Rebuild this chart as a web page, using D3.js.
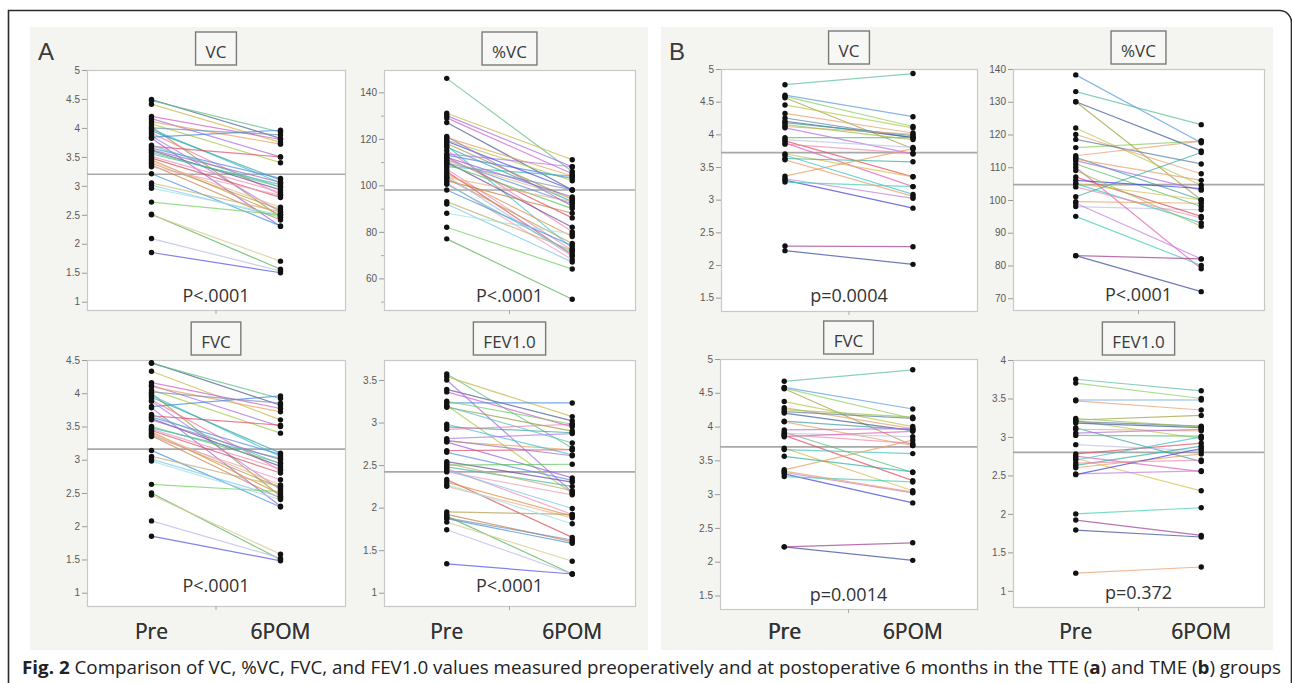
<!DOCTYPE html>
<html><head><meta charset="utf-8">
<script src="https://cdn.jsdelivr.net/npm/d3@7"></script>
<style>html,body{margin:0;padding:0;background:#fff;} svg{display:block}</style>
</head><body>
<svg id="chart" width="1292" height="683"></svg>
<script>
// ---------------- DATA ----------------
const timepoints = ["Pre", "6POM"];
const groupLabels = ["A", "B"];
const titles = ["VC", "%VC", "FVC", "FEV1.0", "VC", "%VC", "FVC", "FEV1.0"];
const pLabels = ["P<.0001", "P<.0001", "P<.0001", "P<.0001", "p=0.0004", "P<.0001", "p=0.0014", "p=0.372"];
const meanValues = [3.2, 98, 3.16, 2.42, 3.72, 104.7, 3.70, 2.80];

const ticksVolA = [1, 1.5, 2, 2.5, 3, 3.5, 4, 4.5, 5];
const ticksPctA = [60, 80, 100, 120, 140];
const ticksPctAMinor = [50, 70, 90, 110, 130, 150];
const ticksFvcA = [1, 1.5, 2, 2.5, 3, 3.5, 4, 4.5];
const ticksFevA = [1, 1.5, 2, 2.5, 3, 3.5];
const ticksVolB = [1.5, 2, 2.5, 3, 3.5, 4, 4.5, 5];
const ticksPctB = [70, 80, 90, 100, 110, 120, 130, 140];
const ticksFevB = [1, 1.5, 2, 2.5, 3, 3.5, 4];

// TTE group (A)
const aVC_pre  = [4.49,4.47,4.41,4.20,4.16,4.11,4.07,4.02,3.98,3.95,3.91,3.86,3.84,3.82,3.68,3.65,3.61,3.58,3.55,3.51,3.48,3.45,3.42,3.39,3.36,3.33,3.21,3.05,3.01,2.96,2.72,2.51,2.50,2.09,1.85,4.00,3.70,3.62];
const aVC_post = [3.82,3.93,3.75,3.80,3.50,3.72,3.40,2.46,3.05,3.10,2.85,2.55,3.96,2.30,3.50,3.13,2.93,2.98,3.02,2.89,2.80,2.50,2.63,2.59,2.41,2.84,2.31,2.55,2.46,2.50,2.50,1.56,1.70,1.53,1.50,3.88,2.98,3.06];
const aPVC_pre  = [127,146,131,129,130,120.5,119.5,118,117,116.5,115,113.5,113,112,112,111,110,109,108,107,106,105,103.5,103,102,101,98,93,92,88,82,77,110.5,104,119,109.5,100.5,121];
const aPVC_post = [98,106,111,105,108,104,102,94,73,93,80,108,103,95,86,92,82,90,104,72,70,78,93,75,88,68,74,72,67,79,64,51,94.5,69.5,98,98,71,91];
const aFVC_pre  = [4.46,4.45,4.33,4.16,4.12,4.10,4.05,4.00,3.97,3.94,3.90,3.88,3.80,3.78,3.66,3.64,3.62,3.50,3.48,3.46,3.44,3.42,3.40,3.38,3.36,3.35,3.14,3.05,3.01,2.98,2.63,2.50,2.47,2.08,1.85,4.02,3.68,3.60];
const aFVC_post = [3.82,3.92,3.60,3.77,3.50,3.72,3.40,2.45,3.05,3.10,2.84,2.55,3.96,2.30,3.52,3.08,2.90,2.95,3.02,2.86,2.80,2.48,2.62,2.58,2.42,2.70,2.29,2.60,2.44,2.40,2.52,1.50,1.58,1.52,1.48,3.85,2.94,3.00];
const aFEV_pre  = [3.39,3.57,3.54,3.36,3.50,2.78,3.20,3.18,2.98,2.95,2.92,2.81,3.23,2.77,2.67,2.65,2.54,2.50,2.48,2.46,2.33,2.30,2.25,1.95,1.92,2.42,1.87,2.52,2.44,2.27,3.25,1.90,1.83,1.74,1.34,1.88,3.19,2.79];
const aFEV_post = [3.02,2.70,3.07,2.95,2.18,2.68,2.17,2.90,2.62,2.88,2.98,2.87,3.23,2.35,2.68,2.32,2.30,2.51,2.25,1.92,1.65,1.90,1.88,1.92,1.60,2.15,1.58,2.20,1.99,1.81,2.98,1.22,1.37,1.22,1.22,1.62,2.76,2.61];

// TME group (B)
const bVC_pre  = [4.76,4.60,4.58,4.56,4.45,4.32,4.25,4.20,4.18,4.12,4.10,3.95,3.92,3.90,3.87,3.70,3.68,3.63,3.36,3.32,3.30,3.27,2.29,2.22,3.61,4.15,3.85];
const bVC_post = [4.93,4.27,4.12,3.78,4.10,4.02,3.95,3.95,3.98,4.00,3.70,3.95,3.80,3.35,3.20,3.35,3.08,3.58,3.78,3.02,2.87,3.20,2.28,2.01,3.05,3.92,3.71];
const bPVC_pre  = [133.1,138.2,116,130,122,120,118.5,130,113,112.5,112,111,98,107,110,105,105,101,99.5,99,106,95,83,83,113.5,109,104];
const bPVC_post = [123,117.5,118,100,104.5,108,111,115,100,106,103,98,97,95,79,100,93,114.5,99,82,103.5,80,82,72,118,92,94.5];
const bFVC_pre  = [4.67,4.58,4.57,4.56,4.37,4.28,4.22,4.20,4.08,4.07,3.95,3.92,3.90,3.87,3.85,3.68,3.66,3.56,3.36,3.32,3.30,3.26,2.22,2.22,3.34,4.25,3.88];
const bFVC_post = [4.84,4.26,4.12,3.72,4.00,3.97,4.12,3.94,3.95,3.72,3.97,3.32,3.85,3.20,3.93,3.05,3.60,3.33,3.80,3.02,2.87,3.18,2.28,2.02,3.03,4.14,3.75];
const bFEV_pre  = [3.75,3.48,3.70,3.22,3.21,3.47,3.20,3.18,3.12,3.10,3.05,3.02,2.90,2.78,2.75,2.72,2.70,2.63,2.60,2.52,2.51,2.00,1.92,1.79,1.23,3.24,2.66];
const bFEV_post = [3.60,3.48,3.50,3.28,2.98,3.35,3.14,3.12,2.68,3.08,3.10,3.01,2.82,2.92,2.55,2.30,3.00,2.88,2.78,2.56,2.85,2.08,1.72,1.70,1.31,3.13,2.70];

const captionParts = [
  {t: "Fig. 2", b: true}, {t: " Comparison of VC, %VC, FVC, and FEV1.0 values measured preoperatively and at postoperative 6 months in the TTE (", b: false},
  {t: "a", b: true}, {t: ") and TME (", b: false}, {t: "b", b: true}, {t: ") groups", b: false}
];

// line colours (JMP-like palettes)
const colorsA = ["#4b5a8c","#5cbf84","#c6b84a","#d35bd0","#a56ce0","#e8a15a","#a9c94a","#9a9a3a",
  "#3fc3d3","#3aa6a0","#ef7fb0","#b07ae6","#4a86e0","#9b5fe0","#e0506a","#5a8ae8","#6a4a9a","#5ac060",
  "#40b8b0","#f08cc0","#d9505a","#e09040","#f0b090","#b0a050","#c8804a","#f0a0c0","#4090e0","#c0b070",
  "#80c8e8","#a0e0e0","#70d060","#50b050","#d8c890","#b8b8e8","#5050e0","#7890b0","#60c0c0","#a070c0"];
const colorsB = ["#5cc09a","#5a9ae0","#8ad060","#a0a040","#b8c850","#e8a070","#6080a0","#3a5a9a","#40a0a0",
  "#e8a070","#b070e0","#50c070","#c0c0e8","#e05060","#e060b0","#d8c050","#40c0c8","#30b0a0","#e8a060",
  "#c080e0","#4040d8","#40d0b0","#a04090","#3a4a9a","#e8a070","#9ac050","#f08cb0"];

// ---------------- LAYOUT ----------------
const panels = [
  {x0:87,   x1:345,  y0:70,  y1:310, dom:[0.857,5],    ticks:ticksVolA, minor:null, pre:aVC_pre,  post:aVC_post,  pOff:8,  col:colorsA},
  {x0:384,  x1:635,  y0:70,  y1:310, dom:[46.4,149.6], ticks:ticksPctA, minor:ticksPctAMinor, pre:aPVC_pre, post:aPVC_post, pOff:8, col:colorsA},
  {x0:87,   x1:345,  y0:360, y1:606, dom:[0.8,4.5],    ticks:ticksFvcA, minor:null, pre:aFVC_pre, post:aFVC_post, pOff:14, col:colorsA},
  {x0:384,  x1:635,  y0:360, y1:606, dom:[0.844,3.735],ticks:ticksFevA, minor:null, pre:aFEV_pre, post:aFEV_post, pOff:14, col:colorsA},
  {x0:721,  x1:977,  y0:69,  y1:311, dom:[1.296,5],    ticks:ticksVolB, minor:null, pre:bVC_pre,  post:bVC_post,  pOff:9,  col:colorsB},
  {x0:1013, x1:1264, y0:69,  y1:310, dom:[66.4,140],   ticks:ticksPctB, minor:null, pre:bPVC_pre, post:bPVC_post, pOff:9,  col:colorsB},
  {x0:720,  x1:977,  y0:359, y1:609, dom:[1.3,5],      ticks:ticksVolB, minor:null, pre:bFVC_pre, post:bFVC_post, pOff:8,  col:colorsB},
  {x0:1013, x1:1264, y0:360, y1:607, dom:[0.79,4],     ticks:ticksFevB, minor:null, pre:bFEV_pre, post:bFEV_post, pOff:8,  col:colorsB}
];
const groupBoxes = [{x:30, y:27, w:618, h:623}, {x:661, y:27, w:612, h:623}];
const groupLabelPos = [{x:38, y:60}, {x:669, y:60}];

const svg = d3.select("#chart");
const sansUI = "'Open Sans','Noto Sans',sans-serif";
const sansAx = "'Liberation Sans',Arial,sans-serif";

svg.append("path")
  .attr("d", "M8.5,700 V10.5 H1279.5 A12,12 0 0 1 1291.5,22.5 V700")
  .attr("fill", "none").attr("stroke", "#2a2a2a").attr("stroke-width", 1.6);

svg.selectAll("rect.grp").data(groupBoxes).enter().append("rect")
  .attr("x", d => d.x).attr("y", d => d.y).attr("width", d => d.w).attr("height", d => d.h)
  .attr("fill", "#f4f4f0");

svg.selectAll("text.glab").data(groupLabels).enter().append("text")
  .attr("x", (d, i) => groupLabelPos[i].x).attr("y", (d, i) => groupLabelPos[i].y)
  .attr("font-family", sansAx).attr("font-size", 24).attr("fill", "#3a3a3a")
  .text(d => d);

panels.forEach((p, pi) => {
  const g = svg.append("g");
  const x = d3.scalePoint().domain(timepoints).range([p.x0, p.x1]).padding(0.5);
  const y = d3.scaleLinear().domain(p.dom).range([p.y1, p.y0]);
  const cx = (p.x0 + p.x1) / 2;

  g.append("rect").attr("x", p.x0 + 0.5).attr("y", p.y0 + 0.5)
    .attr("width", p.x1 - p.x0).attr("height", p.y1 - p.y0)
    .attr("fill", "#fff").attr("stroke", "#c8c8c8").attr("stroke-width", 1.2);

  const ax = g.append("g").attr("transform", `translate(${p.x0},0)`)
    .call(d3.axisLeft(y).tickValues(p.ticks).tickSize(5).tickPadding(2).tickFormat(d3.format("~g")));
  ax.select(".domain").remove();
  ax.selectAll(".tick line").attr("stroke", "#9a9a9a");
  ax.selectAll(".tick text").attr("fill", "#5a5a5a").attr("font-size", 10).attr("font-family", sansAx);
  if (p.minor) {
    const mx = g.append("g").attr("transform", `translate(${p.x0},0)`)
      .call(d3.axisLeft(y).tickValues(p.minor.filter(v => v >= p.dom[0] && v <= p.dom[1])).tickSize(3).tickFormat(""));
    mx.select(".domain").remove();
    mx.selectAll(".tick line").attr("stroke", "#aaa");
  }
  g.append("line").attr("x1", cx).attr("x2", cx).attr("y1", p.y1).attr("y2", p.y1 + 4)
    .attr("stroke", "#aaa");

  g.append("line").attr("x1", p.x0).attr("x2", p.x1)
    .attr("y1", y(meanValues[pi])).attr("y2", y(meanValues[pi]))
    .attr("stroke", "#a8a8a8").attr("stroke-width", 1.6);

  const pairs = p.pre.map((v, i) => ({pre: v, post: p.post[i], i}));
  g.selectAll("line.pair").data(pairs).enter().append("line")
    .attr("x1", x("Pre")).attr("x2", x("6POM"))
    .attr("y1", d => y(d.pre)).attr("y2", d => y(d.post))
    .attr("stroke", d => p.col[d.i % p.col.length])
    .attr("stroke-width", 1.2).attr("stroke-opacity", 0.72);

  const pts = [];
  pairs.forEach(d => { pts.push({t: "Pre", v: d.pre}); pts.push({t: "6POM", v: d.post}); });
  g.selectAll("circle").data(pts).enter().append("circle")
    .attr("cx", d => x(d.t)).attr("cy", d => y(d.v)).attr("r", 2.7).attr("fill", "#111");

  const tb = g.append("g");
  const tt = tb.append("text").attr("x", cx).attr("y", p.y0 - 12)
    .attr("text-anchor", "middle").attr("font-family", sansUI).attr("font-size", 17)
    .attr("fill", "#3a3a3a").text(titles[pi]);
  const tw = tt.node().getComputedTextLength();
  tb.insert("rect", "text").attr("x", cx - tw / 2 - 10).attr("y", p.y0 - 38)
    .attr("width", tw + 20).attr("height", 33)
    .attr("fill", "#f7f7f5").attr("stroke", "#7a7a7a").attr("stroke-width", 1.4);

  g.append("text").attr("x", cx).attr("y", p.y1 - p.pOff)
    .attr("text-anchor", "middle").attr("font-family", sansUI).attr("font-size", 18)
    .attr("fill", "#333").text(pLabels[pi]);

  g.selectAll("text.xl").data(timepoints).enter().append("text")
    .attr("x", d => x(d)).attr("y", 639)
    .attr("text-anchor", "middle").attr("font-family", sansUI).attr("font-size", 21)
    .attr("fill", "#333").text(d => d);
});

const cap = svg.append("text").attr("font-family", sansUI).attr("font-size", 18).attr("fill", "#222");
captionParts.forEach(c => {
  cap.append("tspan").attr("font-weight", c.b ? "bold" : "normal").text(c.t);
});
const capLen = cap.node().getComputedTextLength();
cap.attr("transform", `translate(22,674) scale(${1260 / capLen},1)`);
</script>
</body></html>
